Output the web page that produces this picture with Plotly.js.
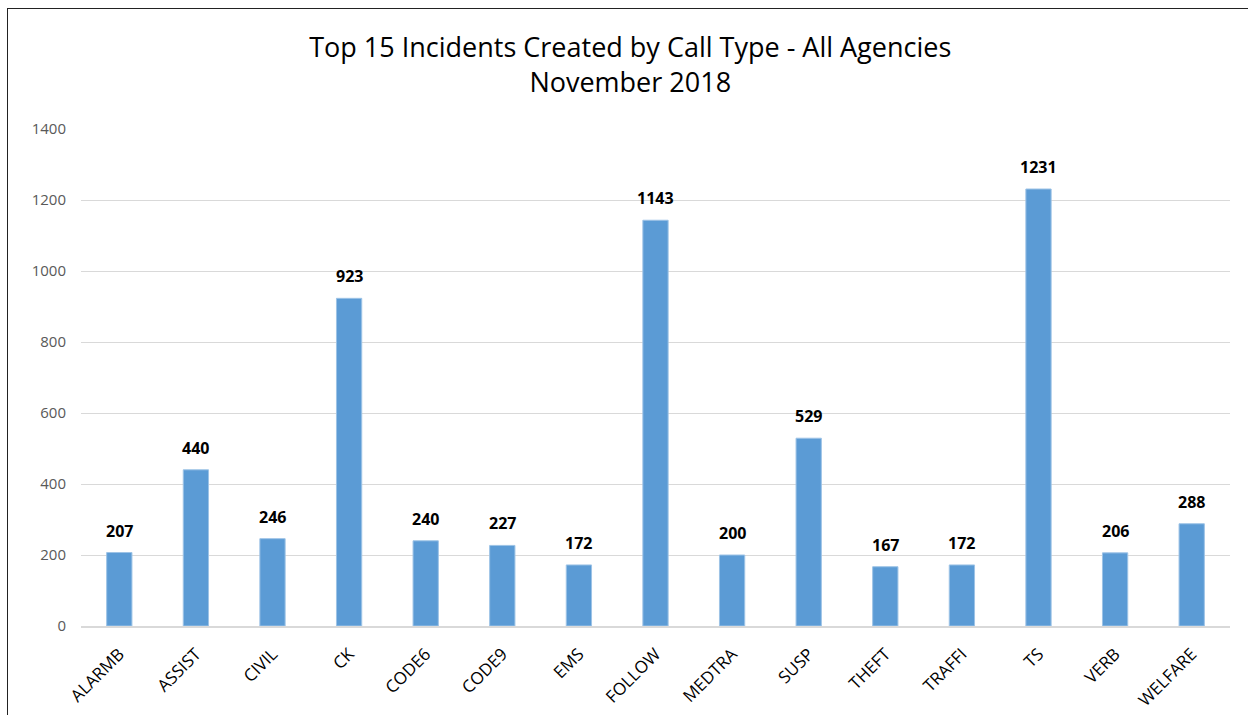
<!DOCTYPE html>
<html>
<head>
<meta charset="utf-8">
<script src="https://cdn.plot.ly/plotly-3.0.1.min.js"></script>
<style>
html,body{margin:0;padding:0;background:#fff;overflow:hidden;}
#chart{position:absolute;left:0;top:0;width:1248px;height:715px;}
#frame{position:absolute;left:7px;top:8px;width:1300px;height:800px;border-left:1.5px solid #222;border-top:1.5px solid #222;pointer-events:none;}
</style>
</head>
<body>
<div id="chart"></div>
<div id="frame"></div>
<script>
const categories = ["ALARMB","ASSIST","CIVIL","CK","CODE6","CODE9","EMS","FOLLOW","MEDTRA","SUSP","THEFT","TRAFFI","TS","VERB","WELFARE"];
const incidents = [207,440,246,923,240,227,172,1143,200,529,167,172,1231,206,288];
const yTicks = [0,200,400,600,800,1000,1200,1400];

const trace = {
  type: "bar",
  x: categories,
  y: incidents,
  marker: {color: "#5B9BD5", line: {color: "#9DC3E6", width: 1}},
  hoverinfo: "x+y"
};

const labels = categories.map((c, i) => ({
  x: c, y: incidents[i], xref: "x", yref: "y",
  text: "<b>" + incidents[i] + "</b>",
  showarrow: false, yanchor: "bottom", yshift: 9,
  font: {family: "Open Sans, sans-serif", size: 16, color: "#000"}
}));

const layout = {
  width: 1248, height: 715,
  margin: {l: 81, r: 18, t: 129, b: 89},
  paper_bgcolor: "#fff", plot_bgcolor: "#fff",
  showlegend: false,
  title: {
    text: "Top 15 Incidents Created by Call Type - All Agencies<br>November 2018",
    font: {family: "Open Sans, sans-serif", size: 27, color: "#000"},
    x: 0.505, xanchor: "center", y: 0.92, yanchor: "top"
  },
  annotations: labels,
  xaxis: {
    type: "category",
    tickangle: -45,
    tickfont: {family: "Open Sans, sans-serif", size: 17, color: "#000"},
    showgrid: false, zeroline: false,
    showline: true, linecolor: "#D9D9D9", linewidth: 1.5,
    ticks: "", ticklabelstandoff: 10
  },
  yaxis: {
    range: [0, 1400],
    tickvals: yTicks,
    ticktext: yTicks.map(String),
    tickfont: {family: "Open Sans, sans-serif", size: 15, color: "#595959"},
    showgrid: true, gridcolor: "#D9D9D9", gridwidth: 1,
    zeroline: false, showline: false, ticks: "",
    ticklabelstandoff: 14
  },
  bargap: 0.67
};

Plotly.newPlot("chart", [trace], layout, {displayModeBar: false, staticPlot: true});
</script>
</body>
</html>
